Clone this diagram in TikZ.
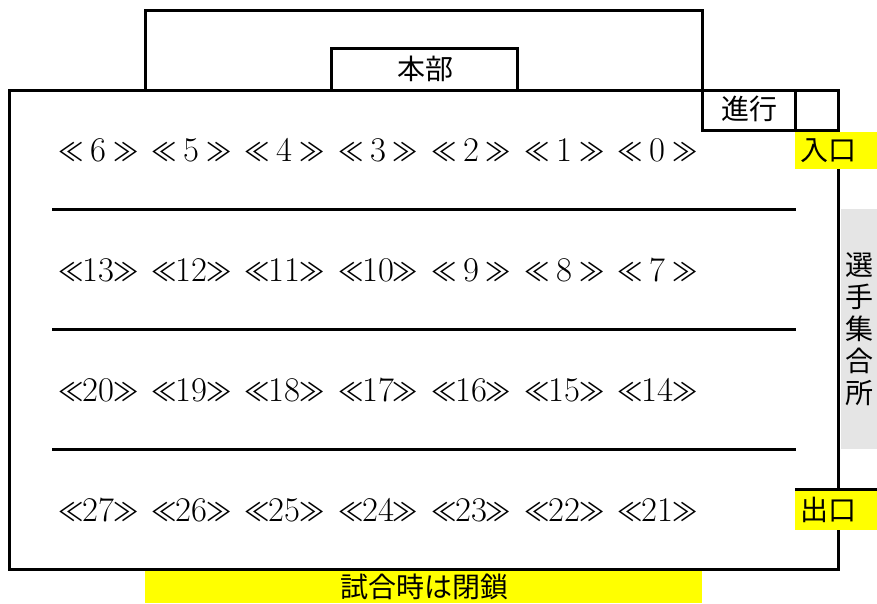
\documentclass[tikz,border=0pt]{standalone}
\usepackage{fontspec}
\newfontfamily\jpfont{Noto Sans CJK JP}
\usepackage{tikz}
\usetikzlibrary{positioning}
\definecolor{signyellow}{rgb}{1,1,0}
\definecolor{lightgray}{rgb}{0.898,0.898,0.898}
\newcommand{\seatlbl}[1]{{\jpfont ≪}\makebox[22pt]{\fontsize{26}{28}\selectfont #1}{\jpfont ≫}}
\tikzset{
    wall/.style={line width=2.25pt}, % Walls of the hall
    seat/.style={inner sep=0pt, font=\fontsize{19}{24}\selectfont}, % Seat labels
    label/.style={inner sep=0pt, font=\jpfont\fontsize{21}{24}\selectfont},
}

\begin{document}
\begin{tikzpicture}[x=0.75pt, y=-0.75pt]
    \useasboundingbox (0,0) rectangle (877,603);

    % --- Signs (drawn under the walls) ---
    \fill[lightgray] (841,209) rectangle (877,449);
    \fill[signyellow] (145,571) rectangle (702,603);

    % --- Walls ---
    \draw[wall] (9,90) rectangle (838,569);
    \draw[wall] (145,90) -- (145,10) -- (702,10) -- (702,90);
    \draw[wall] (331,90) -- (331,48) -- (517,48) -- (517,90);
    \draw[wall] (702,90) rectangle (795,130);
    \draw[wall] (795,90) rectangle (838,130);

    % --- Dividers between rows ---
    \draw[wall] (52,209) -- (796,209);
    \draw[wall] (52,329) -- (796,329);
    \draw[wall] (52,449) -- (796,449);

    % --- Entrance and exit ---
    \fill[signyellow] (795,131.5) rectangle (877,169);
    \fill[signyellow] (795,489) rectangle (877,530);
    \draw[wall] (795,489) -- (877,489);

    % --- Labels ---
    \node[label] (hq) at (425,69) {本部};
    \node[label] (prog) at (749,109) {進行};
    \node[label] (entrance) at (828,151) {入口};
    \node[label] (exit) at (828,510) {出口};
    \node[label, align=center, text width=21pt] (assembly) at (859,329)
        {選\\手\\集\\合\\所};
    \node[label] (closed) at (424,587) {試合時は閉鎖};

    % --- Seats ---
    \foreach \r in {0,...,3}
        \foreach \k in {0,...,6} {
            \pgfmathtruncatemacro{\n}{7*\r+6-\k}
            \node[seat] (s\n) at ({98.5+93.2*\k},{150+120*\r}) {\seatlbl{\n}};
        }

\end{tikzpicture}
\end{document}
